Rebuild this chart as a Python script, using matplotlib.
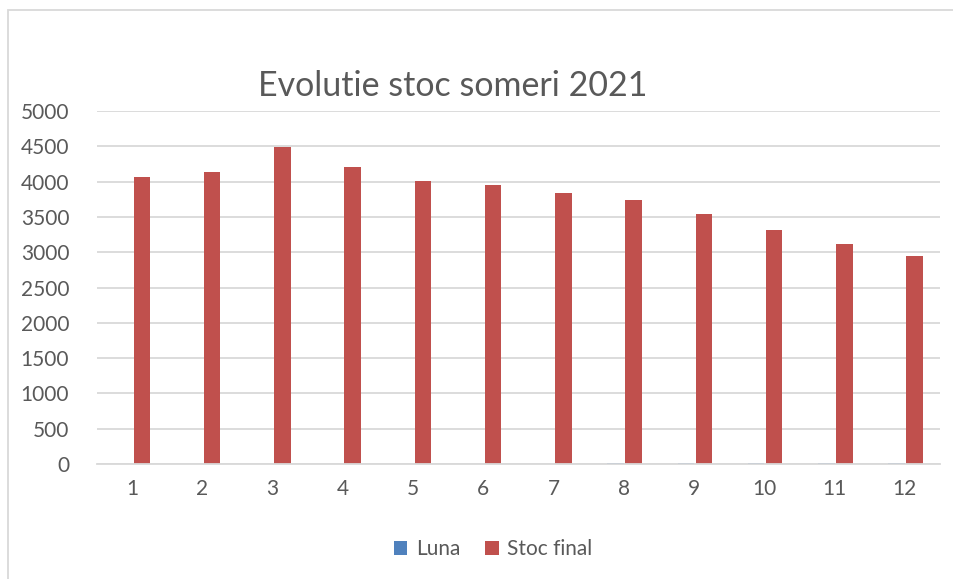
import matplotlib
matplotlib.use('Agg')
import matplotlib.pyplot as plt
from matplotlib.patches import Rectangle
import numpy as np

# Data
months = [1, 2, 3, 4, 5, 6, 7, 8, 9, 10, 11, 12]
luna = [1, 2, 3, 4, 5, 6, 7, 8, 9, 10, 11, 12]
stoc_final = [4070, 4140, 4485, 4200, 4005, 3955, 3840, 3737, 3535, 3320, 3110, 2943]
y_ticks = [0, 500, 1000, 1500, 2000, 2500, 3000, 3500, 4000, 4500, 5000]

blue = '#4F81BD'
red = '#C0504D'
text_col = '#595959'
grid_col = '#D9D9D9'

plt.rcParams['font.family'] = ['Lato', 'DejaVu Sans']

fig = plt.figure(figsize=(9.54, 5.79), dpi=100)
W, H = 954, 579

# chart area border (light grey, runs off the right/bottom edge)
fig.patches.append(Rectangle((8 / W, -0.1), 1.2, 1 - 10 / H + 0.1,
                             transform=fig.transFigure, fill=False,
                             edgecolor='#D9D9D9', linewidth=1.3))

ax = fig.add_axes([97 / W, 1 - 464 / H, (940 - 97) / W, (464 - 111) / H])

x = np.arange(len(months))
w = 0.235
ax.bar(x - w / 2, luna, width=w, color=blue, label='Luna')
ax.bar(x + w / 2 + 0.02, stoc_final, width=w, color=red, label='Stoc final')

ax.set_xlim(-0.5, len(months) - 0.5)
ax.set_ylim(0, 5000)
ax.set_yticks(y_ticks)
ax.set_xticks(x)
ax.set_xticklabels([str(m) for m in months])
ax.yaxis.grid(True, color=grid_col, linewidth=1.3)
ax.set_axisbelow(True)
for side in ['left', 'right', 'top']:
    ax.spines[side].set_visible(False)
ax.spines['bottom'].set_color(grid_col)
ax.spines['bottom'].set_linewidth(1.3)
ax.tick_params(axis='both', length=0, colors=text_col, labelsize=15)
ax.tick_params(axis='x', pad=11)
ax.tick_params(axis='y', pad=20)

fig.text(453 / W, 1 - 86 / H, 'Evolutie stoc someri 2021', ha='center', va='center',
         fontsize=24.5, color=text_col)

handles, labels = ax.get_legend_handles_labels()
fig.legend(handles, labels, loc='center', bbox_to_anchor=(493 / W, 1 - 549 / H),
           ncol=2, frameon=False, fontsize=15, labelcolor=text_col,
           handlelength=0.65, handleheight=0.65, handletextpad=0.4, columnspacing=1.2)

fig.savefig('out.png', dpi=100)
